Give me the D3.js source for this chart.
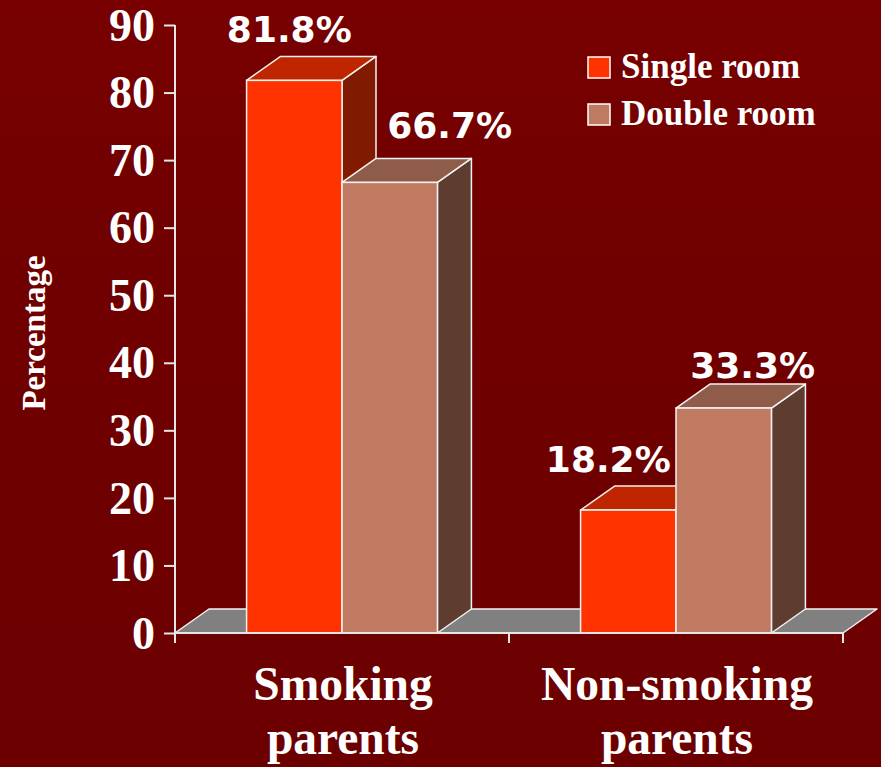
<!DOCTYPE html>
<html>
<head>
<meta charset="utf-8">
<script src="https://cdn.jsdelivr.net/npm/d3@7/dist/d3.min.js"></script>
<style>
  html, body { margin: 0; padding: 0; background: #700000; }
  svg { display: block; }
</style>
</head>
<body>
<svg id="chart" width="881" height="767"></svg>
<script>
// ---- data ----
const categories = ["Smoking parents", "Non-smoking parents"];
const categoryLines = [["Smoking", "parents"], ["Non-smoking", "parents"]];
const seriesNames = ["Single room", "Double room"];
const singleRoom = [81.8, 18.2];
const doubleRoom = [66.7, 33.3];
const yTicks = [0, 10, 20, 30, 40, 50, 60, 70, 80, 90];
const yTitle = "Percentage";

// ---- layout (not data) ----
const W = 881, H = 767;
const plot = { left: 175, right: 843, top: 25, bottom: 633 };
const depth = { dx: 34, dy: -24 };
// label nudges [dx from bar center, dy from back-top edge], per category per series
const labelNudge = [
  [[-5, -14], [60, -20]],
  [[-20, -14], [29, -6]]
];
const colors = {
  single: { front: "#FF3300", top: "#BF2600", side: "#801A00" },
  double: { front: "#C07A62", top: "#8F5C4A", side: "#5E3C30" }
};
const seriesColors = [colors.single, colors.double];

const svg = d3.select("#chart");

// background
const defs = svg.append("defs");
const grad = defs.append("linearGradient").attr("id", "bg").attr("x1", 0).attr("y1", 0).attr("x2", 0).attr("y2", 1);
grad.append("stop").attr("offset", "0%").attr("stop-color", "#780000");
grad.append("stop").attr("offset", "30%").attr("stop-color", "#710000");
grad.append("stop").attr("offset", "100%").attr("stop-color", "#6C0000");
svg.append("rect").attr("width", W).attr("height", H).attr("fill", "url(#bg)");

// scales
const x0 = d3.scaleBand().domain(categories).range([plot.left, plot.right]).paddingInner(0).paddingOuter(0);
const x1 = d3.scaleBand().domain(seriesNames).range([0, x0.bandwidth()]).paddingInner(0).paddingOuter(0.75);
const y = d3.scaleLinear().domain([0, 90]).range([plot.bottom, plot.top]);

const data = categories.map((c, i) => ({
  category: c,
  lines: categoryLines[i],
  values: [
    { series: seriesNames[0], value: singleRoom[i], color: seriesColors[0], nudge: labelNudge[i][0] },
    { series: seriesNames[1], value: doubleRoom[i], color: seriesColors[1], nudge: labelNudge[i][1] }
  ]
}));

const stroke = "#F2F2F2";

// floor
const fx0 = plot.left, fx1 = plot.right, fy = y(0);
svg.append("polygon")
  .attr("points", [[fx0, fy], [fx1, fy], [fx1 + depth.dx, fy + depth.dy], [fx0 + depth.dx, fy + depth.dy]].map(p => p.join(",")).join(" "))
  .attr("fill", "#808080").attr("stroke", stroke).attr("stroke-width", 1.5).attr("stroke-linejoin", "round");

// bars
const bars = svg.append("g");
data.forEach(g => {
  g.values.forEach(d => {
    const xl = x0(g.category) + x1(d.series);
    const xr = xl + x1.bandwidth();
    const yt = y(d.value), yb = y(0);
    const dx = depth.dx, dy = depth.dy;
    const grp = bars.append("g");
    grp.append("polygon")
      .attr("points", [[xr, yb], [xr, yt], [xr + dx, yt + dy], [xr + dx, yb + dy]].map(p => p.join(",")).join(" "))
      .attr("fill", d.color.side).attr("stroke", stroke).attr("stroke-width", 1.5).attr("stroke-linejoin", "round");
    grp.append("polygon")
      .attr("points", [[xl, yt], [xr, yt], [xr + dx, yt + dy], [xl + dx, yt + dy]].map(p => p.join(",")).join(" "))
      .attr("fill", d.color.top).attr("stroke", stroke).attr("stroke-width", 1.5).attr("stroke-linejoin", "round");
    grp.append("rect")
      .attr("x", xl).attr("y", yt).attr("width", xr - xl).attr("height", yb - yt)
      .attr("fill", d.color.front).attr("stroke", stroke).attr("stroke-width", 1.5);
  });
});

// value labels
data.forEach(g => {
  g.values.forEach(d => {
    const xc = x0(g.category) + x1(d.series) + x1.bandwidth() / 2;
    svg.append("text")
      .attr("x", xc + d.nudge[0])
      .attr("y", y(d.value) + depth.dy + d.nudge[1])
      .attr("text-anchor", "middle")
      .attr("font-family", "'DejaVu Sans', Verdana, sans-serif")
      .attr("font-weight", "bold")
      .attr("font-size", 36)
      .attr("fill", "#FFFFFF")
      .text(d.value.toFixed(1) + "%");
  });
});

// y axis
const yAxis = d3.axisLeft(y).tickValues(yTicks).tickSize(11).tickPadding(9).tickFormat(d3.format("d"));
const yg = svg.append("g").attr("transform", `translate(${plot.left},0)`).call(yAxis);
yg.select(".domain").remove();
yg.selectAll(".tick line").attr("stroke", "#E6E6E6").attr("stroke-width", 2);
yg.selectAll(".tick text")
  .attr("fill", "#FFFFFF")
  .attr("font-family", "'Liberation Serif', 'Times New Roman', serif")
  .attr("font-weight", "bold")
  .attr("font-size", 46)
  .attr("dy", "0.33em");
svg.append("line").attr("x1", plot.left).attr("x2", plot.left).attr("y1", plot.top).attr("y2", plot.bottom + 10)
  .attr("stroke", "#E6E6E6").attr("stroke-width", 2);

// x axis
svg.append("line").attr("x1", plot.left).attr("x2", plot.right).attr("y1", plot.bottom).attr("y2", plot.bottom)
  .attr("stroke", "#E6E6E6").attr("stroke-width", 2);
const xBoundaries = [plot.left].concat(categories.map(c => x0(c) + x0.bandwidth()));
svg.selectAll(".xtick").data(xBoundaries).enter().append("line")
  .attr("x1", d => d).attr("x2", d => d).attr("y1", plot.bottom).attr("y2", plot.bottom + 10)
  .attr("stroke", "#E6E6E6").attr("stroke-width", 2);

// category labels
data.forEach(g => {
  const cx = x0(g.category) + x1(seriesNames[1]) + 1;
  const t = svg.append("text")
    .attr("text-anchor", "middle")
    .attr("font-family", "'Liberation Serif', 'Times New Roman', serif")
    .attr("font-weight", "bold")
    .attr("font-size", 47.5)
    .attr("fill", "#FFFFFF");
  g.lines.forEach((ln, k) => {
    t.append("tspan").attr("x", cx).attr("y", 700 + k * 54).text(ln);
  });
});

// y title
svg.append("text")
  .attr("transform", "translate(45,333) rotate(-90)")
  .attr("text-anchor", "middle")
  .attr("font-family", "'Liberation Serif', 'Times New Roman', serif")
  .attr("font-weight", "bold")
  .attr("font-size", 33)
  .attr("fill", "#FFFFFF")
  .text(yTitle);

// legend
const legend = svg.append("g").attr("transform", "translate(588,57)");
seriesNames.forEach((s, i) => {
  const lg = legend.append("g").attr("transform", `translate(0,${i * 47})`);
  lg.append("rect").attr("x", 0).attr("y", 0).attr("width", 22).attr("height", 21)
    .attr("fill", seriesColors[i].front).attr("stroke", "#FFFFFF").attr("stroke-width", 1.5);
  lg.append("text").attr("x", 33).attr("y", 21)
    .attr("font-family", "'Liberation Serif', 'Times New Roman', serif")
    .attr("font-weight", "bold")
    .attr("font-size", 35)
    .attr("fill", "#FFFFFF")
    .text(s);
});
</script>
</body>
</html>
